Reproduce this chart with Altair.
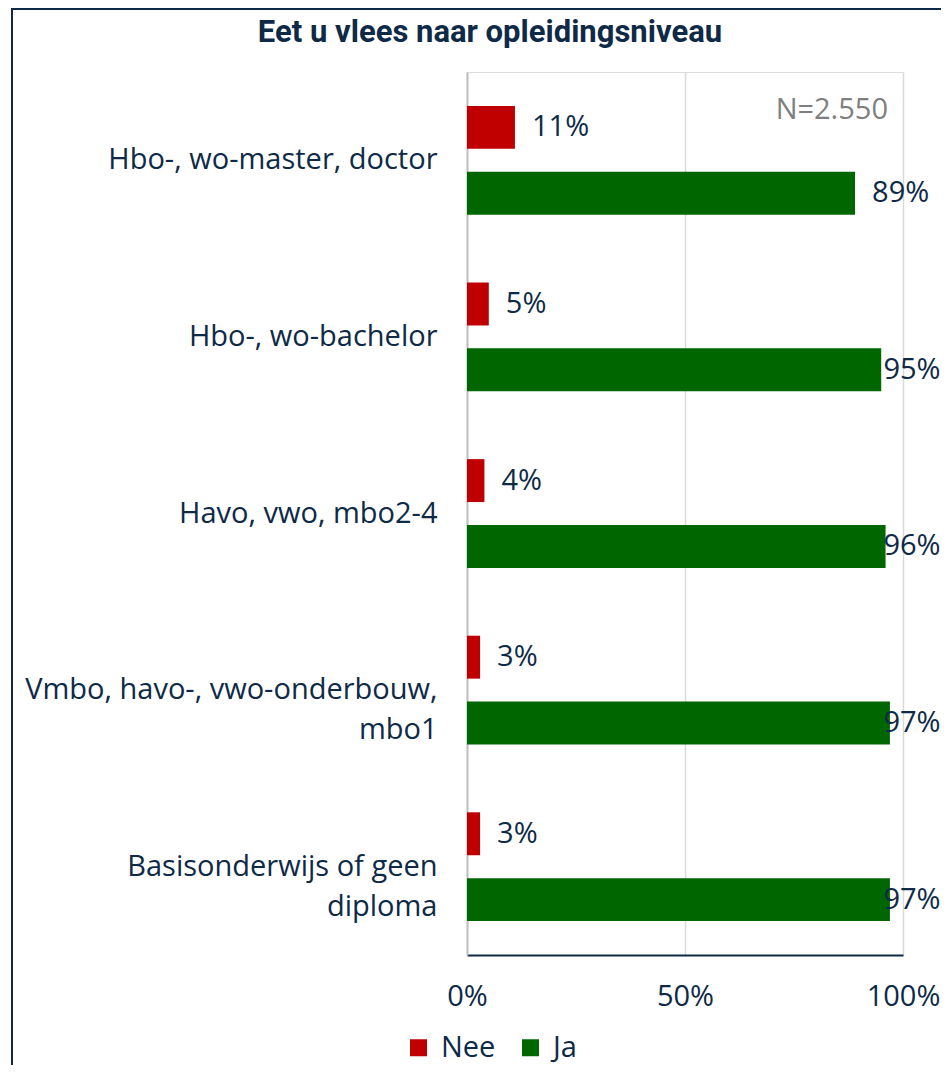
import altair as alt
import pandas as pd

# ---- data ----
categories = [
    "Hbo-, wo-master, doctor",
    "Hbo-, wo-bachelor",
    "Havo, vwo, mbo2-4",
    "Vmbo, havo-, vwo-onderbouw, mbo1",
    "Basisonderwijs of geen diploma",
]
nee = [11, 5, 4, 3, 3]
ja = [89, 95, 96, 97, 97]
series = ["Nee", "Ja"]
colors = ["#C00000", "#006600"]
x_ticks = [0, 50, 100]
sample_note = ["N=2.550"]
title_text = "Eet u vlees naar opleidingsniveau"
label_lines = {
    "Vmbo, havo-, vwo-onderbouw, mbo1": ["Vmbo, havo-, vwo-onderbouw,", "mbo1"],
    "Basisonderwijs of geen diploma": ["Basisonderwijs of geen", "diploma"],
}

NAVY = "#0e2a47"
FONT = "Open Sans"
TFONT = "Liberation Sans Narrow, Roboto"
FS = 29

rows = []
for c, n, j in zip(categories, nee, ja):
    rows.append({"cat": c, "series": "Nee", "value": n})
    rows.append({"cat": c, "series": "Ja", "value": j})
df = pd.DataFrame(rows)

label_expr = ""
for k, lines in label_lines.items():
    arr = "[" + ",".join("'" + l + "'" for l in lines) + "]"
    label_expr += f"datum.label == '{k}' ? {arr} : "
label_expr += "datum.label"

y_enc = alt.Y(
    "cat:N",
    sort=categories,
    scale=alt.Scale(paddingInner=0, paddingOuter=0),
    axis=alt.Axis(
        title=None,
        labelExpr=label_expr,
        labelFontSize=FS,
        labelFont=FONT,
        labelColor=NAVY,
        labelPadding=30,
        labelLineHeight=40,
        labelLimit=0,
        ticks=False,
        domainColor="#bfbfbf",
        domainWidth=2,
    ),
)
yoff = alt.YOffset(
    "series:N", sort=series, scale=alt.Scale(paddingInner=0.348, paddingOuter=0.515)
)
x_enc = alt.X(
    "value:Q",
    scale=alt.Scale(domain=[0, 100]),
    axis=alt.Axis(
        title=None,
        values=x_ticks,
        labelExpr="datum.value + '%'",
        labelFontSize=FS,
        labelFont=FONT,
        labelColor=NAVY,
        labelPadding=27,
        labelFlush=False,
        ticks=False,
        grid=True,
        gridColor="#d9d9d9",
        gridWidth=1.5,
        domainColor=NAVY,
        domainWidth=2,
    ),
)

base = alt.Chart(df)

bars = base.mark_bar().encode(
    y=y_enc,
    yOffset=yoff,
    x=x_enc,
    color=alt.Color(
        "series:N",
        scale=alt.Scale(domain=series, range=colors),
        legend=alt.Legend(
            orient="none",
            legendX=-63,
            legendY=961,
            direction="horizontal",
            title=None,
            symbolType="square",
            symbolSize=289,
            symbolStrokeWidth=0,
            labelFontSize=FS,
            labelFont=FONT,
            labelColor=NAVY,
            labelOffset=8,
            columnPadding=20,
        ),
    ),
)

labels = (
    base.transform_calculate(
        lbl="datum.value + '%'", lx="min(datum.value + 3.9, 95.5)"
    )
    .mark_text(align="left", baseline="middle", fontSize=FS, font=FONT, color=NAVY)
    .encode(
        y=alt.Y("cat:N", sort=categories),
        yOffset=alt.YOffset("series:N", sort=series),
        x="lx:Q",
        text="lbl:N",
    )
)

note = alt.Chart(pd.DataFrame({"t": sample_note})).mark_text(
    align="right", baseline="middle", dx=-15, fontSize=FS, font=FONT, color="#7f7f7f"
).encode(text="t:N", x=alt.datum(100), y=alt.value(38))

frame = alt.Chart(pd.DataFrame({"a": [0]})).mark_rect(
    filled=False, stroke=NAVY, strokeWidth=2
).encode(x=alt.value(-455), x2=alt.value(700), y=alt.value(-63), y2=alt.value(1200))

chart = (
    alt.layer(frame, bars, labels, note)
    .properties(
        width=436,
        height=883,
        autosize=alt.AutoSizeParams(type="none"),
        padding={"left": 459, "top": 64, "right": 38, "bottom": 110},
        title=alt.TitleParams(
            title_text,
            fontSize=31,
            fontWeight="bold",
            font=TFONT,
            color=NAVY,
            anchor="middle",
            frame="group",
            dx=-195,
            offset=-41,
        ),
    )
    .configure_view(stroke=NAVY, strokeWidth=2)
    .configure(background="white")
)

chart.save("out.html", embed_options={"renderer": "svg", "actions": False})
